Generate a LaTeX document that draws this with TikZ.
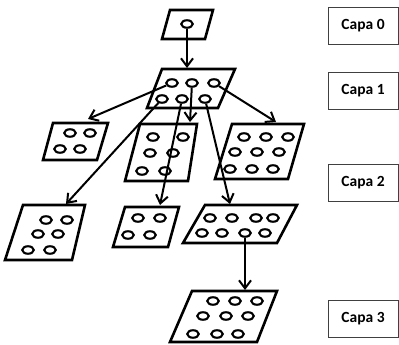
\documentclass[tikz,border=0pt]{standalone}
\usepackage{fontspec}
\newfontfamily\labfont{Carlito}
\usetikzlibrary{arrows.meta,shapes.geometric}
\tikzset{
  plate/.style={draw=black,line width=2.6pt,line join=miter,fill=white},
  hole/.style={draw=black,ellipse,line width=2.1pt,inner sep=0pt,minimum width=11.5pt,minimum height=7.5pt,fill=white},
  link/.style={draw=black,line width=2pt,-{Straight Barb[length=8pt,width=12pt,line width=2pt]}},
  capa/.style={draw=black!75,line width=0.9pt,minimum width=70pt,minimum height=37pt,inner sep=0pt,font=\labfont\bfseries\fontsize{15.5}{18}\selectfont}
}
\begin{document}
\begin{tikzpicture}[x=1pt,y=-1pt]
\useasboundingbox (0,0) rectangle (399,345);
% plates
\draw[plate] (170,10) -- (213,10) -- (205,39) -- (162,39) -- cycle;
\draw[plate] (162,69) -- (235,69) -- (218,108) -- (147,108) -- cycle;
\draw[plate] (53,123) -- (108,123) -- (97,160) -- (43,160) -- cycle;
\draw[plate] (140,124) -- (197,124) -- (188,181) -- (125,181) -- cycle;
\draw[plate] (232,124) -- (304,124) -- (288,179) -- (215,179) -- cycle;
\draw[plate] (23,205) -- (85,205) -- (72,260) -- (5,260) -- cycle;
\draw[plate] (125,207) -- (179,207) -- (168,247) -- (113,247) -- cycle;
\draw[plate] (205,205) -- (297,205) -- (277,243) -- (183,243) -- cycle;
\draw[plate] (192,291) -- (277,291) -- (257,342) -- (170,342) -- cycle;
% holes
\node[hole] (c0) at (187,24) {};
\node[hole] (t1) at (172,83) {};
\node[hole] (t2) at (192,83) {};
\node[hole] (t3) at (214,83) {};
\node[hole] (b1) at (162,99) {};
\node[hole] (b2) at (182,99) {};
\node[hole] (b3) at (205,99) {};
\foreach \p [count=\i] in {(70,133),(90,133),(60,149),(80,149)} \node[hole] (a\i) at \p {};
\foreach \p [count=\i] in {(153,137),(183,137),(150,153),(173,153),(142,171),(165,171)} \node[hole] (bb\i) at \p {};
\foreach \p [count=\i] in {(244,137),(266,137),(288,137),(235,152),(257,152),(279,152),(230,169),(252,169),(273,169)} \node[hole] (cc\i) at \p {};
\foreach \p [count=\i] in {(46,220),(67,220),(38,234),(58,234),(28,250),(50,250)} \node[hole] (dd\i) at \p {};
\foreach \p [count=\i] in {(138,218),(160,218),(128,235),(150,235)} \node[hole] (ee\i) at \p {};
\foreach \p [count=\i] in {(210,218),(232,218),(256,218),(273,218),(202,233),(222,233),(245,233),(265,233)} \node[hole] (ff\i) at \p {};
\foreach \p [count=\i] in {(213,301),(235,301),(257,301),(203,316),(226,316),(248,316),(193,334),(217,334),(238,334)} \node[hole] (gg\i) at \p {};
% arrow targets
\coordinate (p1) at (187,68);
\coordinate (pA) at (88,119);
\coordinate (pB) at (190,122);
\coordinate (pC) at (276,122);
\coordinate (pD) at (66,204);
\coordinate (pE) at (160,205);
\coordinate (pF) at (230,204);
\coordinate (pG) at (245,290);
% arrows
\draw[link] (c0) -- (p1);
\draw[link] (t1) -- (pA);
\draw[link] (t2) -- (pB);
\draw[link] (t3) -- (pC);
\draw[link] (b1) -- (pD);
\draw[link] (b2) -- (pE);
\draw[link] (b3) -- (pF);
\draw[link] (ff7) -- (pG);
% labels
\node[capa] (l0) at (363,25.5) {Capa 0};
\node[capa] (l1) at (363,91) {Capa 1};
\node[capa] (l2) at (363,183) {Capa 2};
\node[capa] (l3) at (363,318.5) {Capa 3};
\end{tikzpicture}
\end{document}
